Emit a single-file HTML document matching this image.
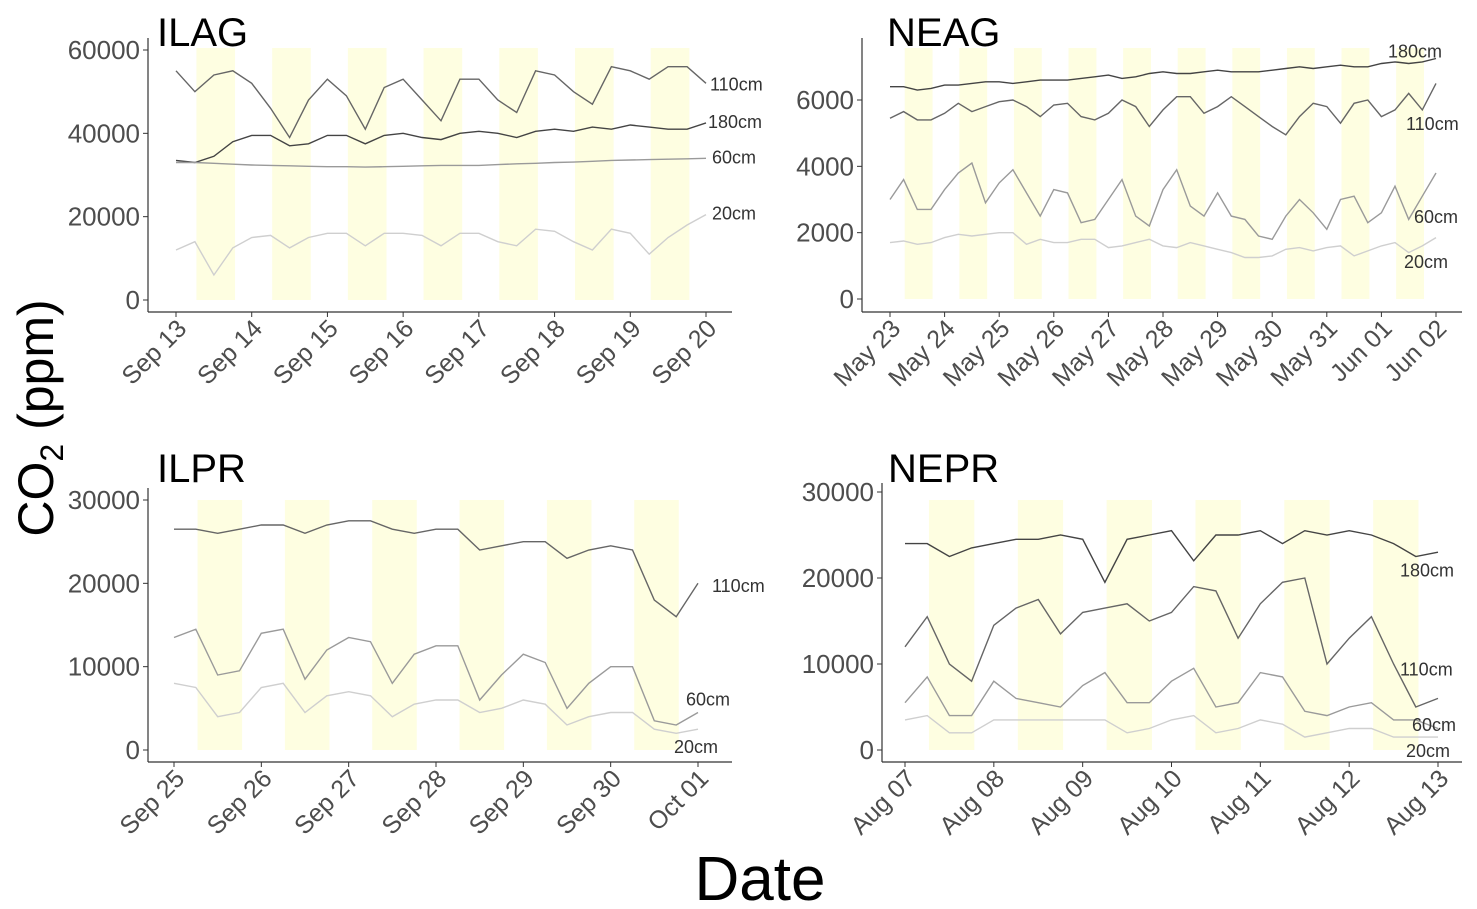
<!DOCTYPE html>
<html><head><meta charset="utf-8"><style>
html,body{margin:0;padding:0;background:#fff;}
svg{display:block;font-family:"Liberation Sans",sans-serif;}
</style></head><body>
<svg id="chart" width="1477" height="909" viewBox="0 0 1477 909" xmlns="http://www.w3.org/2000/svg">
<text transform="translate(53,418) rotate(-90)" text-anchor="middle" font-size="50" fill="#000">CO<tspan font-size="32" dy="10">2</tspan><tspan dy="-10"> (ppm)</tspan></text>
<text x="760" y="900" text-anchor="middle" font-size="62" fill="#000">Date</text>
</svg>
<script>
// ---- data ----
const depths = ["180cm","110cm","60cm","20cm"];
const ilagDates = ["Sep 13","Sep 14","Sep 15","Sep 16","Sep 17","Sep 18","Sep 19","Sep 20"];
const ilagTicks = [0,20000,40000,60000];
const ilag180 = [33500,33000,34500,38000,39500,39500,37000,37500,39500,39500,37500,39500,40000,39000,38500,40000,40500,40000,39000,40500,41000,40500,41500,41000,42000,41500,41000,41000,42500];
const ilag110 = [55000,50000,54000,55000,52000,46000,39000,48000,53000,49000,41000,51000,53000,48000,43000,53000,53000,48000,45000,55000,54000,50000,47000,56000,55000,53000,56000,56000,52000];
const ilag60 = [33000,33000,32800,32600,32400,32300,32200,32100,32000,32000,31900,32000,32100,32200,32300,32300,32300,32500,32700,32800,33000,33100,33300,33500,33600,33700,33800,33900,34000];
const ilag20 = [12000,14000,6000,12500,15000,15500,12500,15000,16000,16000,13000,16000,16000,15500,13000,16000,16000,14000,13000,17000,16500,14000,12000,17000,16000,11000,15000,18000,20500];

const neagDates = ["May 23","May 24","May 25","May 26","May 27","May 28","May 29","May 30","May 31","Jun 01","Jun 02"];
const neagTicks = [0,2000,4000,6000];
const neag180 = [6400,6400,6300,6350,6450,6450,6500,6550,6550,6500,6550,6600,6600,6600,6650,6700,6750,6650,6700,6800,6850,6800,6800,6850,6900,6850,6850,6850,6900,6950,7000,6950,7000,7050,7000,7000,7100,7150,7100,7150,7250];
const neag110 = [5450,5650,5400,5400,5600,5900,5650,5800,5950,6000,5800,5500,5850,5900,5500,5400,5600,6000,5800,5200,5700,6100,6100,5600,5800,6100,5800,5500,5200,4950,5500,5900,5800,5300,5900,6000,5500,5700,6200,5700,6500];
const neag60 = [3000,3600,2700,2700,3300,3800,4100,2900,3500,3900,3200,2500,3300,3200,2300,2400,3000,3600,2500,2200,3300,3900,2800,2500,3200,2500,2400,1900,1800,2500,3000,2600,2100,3000,3100,2300,2600,3400,2400,3100,3800];
const neag20 = [1700,1750,1650,1700,1850,1950,1900,1950,2000,2000,1650,1800,1700,1700,1800,1800,1550,1600,1700,1800,1600,1550,1700,1600,1500,1400,1250,1250,1300,1500,1550,1450,1550,1600,1300,1450,1600,1700,1400,1600,1850];

const ilprDates = ["Sep 25","Sep 26","Sep 27","Sep 28","Sep 29","Sep 30","Oct 01"];
const prTicks = [0,10000,20000,30000];
const ilpr110 = [26500,26500,26000,26500,27000,27000,26000,27000,27500,27500,26500,26000,26500,26500,24000,24500,25000,25000,23000,24000,24500,24000,18000,16000,20000];
const ilpr60 = [13500,14500,9000,9500,14000,14500,8500,12000,13500,13000,8000,11500,12500,12500,6000,9000,11500,10500,5000,8000,10000,10000,3500,3000,4500];
const ilpr20 = [8000,7500,4000,4500,7500,8000,4500,6500,7000,6500,4000,5500,6000,6000,4500,5000,6000,5500,3000,4000,4500,4500,2500,2000,2500];

const neprDates = ["Aug 07","Aug 08","Aug 09","Aug 10","Aug 11","Aug 12","Aug 13"];
const nepr180 = [24000,24000,22500,23500,24000,24500,24500,25000,24500,19500,24500,25000,25500,22000,25000,25000,25500,24000,25500,25000,25500,25000,24000,22500,23000];
const nepr110 = [12000,15500,10000,8000,14500,16500,17500,13500,16000,16500,17000,15000,16000,19000,18500,13000,17000,19500,20000,10000,13000,15500,10000,5000,6000];
const nepr60 = [5500,8500,4000,4000,8000,6000,5500,5000,7500,9000,5500,5500,8000,9500,5000,5500,9000,8500,4500,4000,5000,5500,3500,3500,2500];
const nepr20 = [3500,4000,2000,2000,3500,3500,3500,3500,3500,3500,2000,2500,3500,4000,2000,2500,3500,3000,1500,2000,2500,2500,1500,1500,1500];

const dayStep = 0.25;

// ---- drawing ----
const NS = "http://www.w3.org/2000/svg";
const svg = document.getElementById("chart");
const colors = {"180cm":"#444","110cm":"#666","60cm":"#9a9a9a","20cm":"#cfcfcf"};
function mk(tag, attrs, parent){const e=document.createElementNS(NS,tag);for(const k in attrs)e.setAttribute(k,attrs[k]);(parent||svg).appendChild(e);return e;}

function panel(cfg){
  const g = mk("g",{});
  
  
  const nd = cfg.dates.length-1;
  const x = d => cfg.x0 + (cfg.x1-cfg.x0)*d/nd;
  const y = v => cfg.y0 - (cfg.y0-cfg.yTop)*v/cfg.yMax;
  for(let d=0; d<nd; d++){
    const r = mk("rect",{x:x(d+0.27),y:cfg.bandTop,width:x(d+0.78)-x(d+0.27),height:y(0)-cfg.bandTop,fill:"#fefee1"},g);
    
    
  }
  const ya = mk("line",{x1:cfg.ax,y1:cfg.axTop,x2:cfg.ax,y2:cfg.ay,stroke:"#333","stroke-width":1.2},g);
  
  
  const xa = mk("line",{x1:cfg.ax,y1:cfg.ay,x2:cfg.axRight,y2:cfg.ay,stroke:"#333","stroke-width":1.2},g);
  
  
  cfg.ticks.forEach(t=>{
    mk("line",{x1:cfg.ax-5,y1:y(t),x2:cfg.ax,y2:y(t),stroke:"#333"},g);
    const tx = mk("text",{x:cfg.ax-8,y:y(t)+9,"text-anchor":"end","font-size":26,fill:"#4d4d4d"},g);
    tx.textContent = t;
    
    
  });
  cfg.dates.forEach((lab,i)=>{
    mk("line",{x1:x(i),y1:cfg.ay,x2:x(i),y2:cfg.ay+5,stroke:"#333"},g);
    const tx = mk("text",{transform:`translate(${x(i)+12},${cfg.ay+18}) rotate(-45)`,"text-anchor":"end","font-size":25,fill:"#4d4d4d"},g);
    tx.textContent = lab;
    
    
  });
  cfg.series.forEach(s=>{
    const pts = s.vals.map((v,i)=>x(i*dayStep).toFixed(1)+","+y(v).toFixed(1)).join(" ");
    const p = mk("polyline",{points:pts,fill:"none",stroke:colors[s.name],"stroke-width":1.4},g);
    
    
    const lt = mk("text",{x:x((s.vals.length-1)*dayStep)+s.dx,y:y(s.lab)+7,"font-size":18,fill:"#333"},g);
    lt.textContent = s.name;
    
    
  });
  const tt = mk("text",{x:cfg.tx,y:cfg.ty,"font-size":40,fill:"#000"},g);
  tt.textContent = cfg.id.toUpperCase();
  
  
}

panel({id:"ilag",dates:ilagDates,ticks:ilagTicks,yMax:60000,x0:176,x1:706,y0:300,yTop:50,bandTop:48,ax:148,ay:312,axTop:38,axRight:732,tx:157,ty:46,
  series:[{name:"110cm",vals:ilag110,lab:52000,dx:4},{name:"180cm",vals:ilag180,lab:43000,dx:2},{name:"60cm",vals:ilag60,lab:34500,dx:6},{name:"20cm",vals:ilag20,lab:21000,dx:6}]});
panel({id:"neag",dates:neagDates,ticks:neagTicks,yMax:6000,x0:890,x1:1436,y0:299,yTop:100,bandTop:48,ax:862,ay:312,axTop:38,axRight:1462,tx:887,ty:46,
  series:[{name:"180cm",vals:neag180,lab:7500,dx:-48},{name:"110cm",vals:neag110,lab:5300,dx:-30},{name:"60cm",vals:neag60,lab:2500,dx:-22},{name:"20cm",vals:neag20,lab:1150,dx:-32}]});
panel({id:"ilpr",dates:ilprDates,ticks:prTicks,yMax:30000,x0:174,x1:698,y0:750,yTop:500,bandTop:500,ax:148,ay:762,axTop:488,axRight:732,tx:157,ty:482,
  series:[{name:"110cm",vals:ilpr110,lab:19800,dx:14},{name:"60cm",vals:ilpr60,lab:6200,dx:-12},{name:"20cm",vals:ilpr20,lab:500,dx:-24}]});
panel({id:"nepr",dates:neprDates,ticks:prTicks,yMax:30000,x0:905,x1:1438,y0:750,yTop:492,bandTop:500,ax:882,ay:762,axTop:483,axRight:1462,tx:888,ty:482,
  series:[{name:"180cm",vals:nepr180,lab:21000,dx:-38},{name:"110cm",vals:nepr110,lab:9500,dx:-38},{name:"60cm",vals:nepr60,lab:3000,dx:-26},{name:"20cm",vals:nepr20,lab:0,dx:-32}]});
</script>
</body></html>
